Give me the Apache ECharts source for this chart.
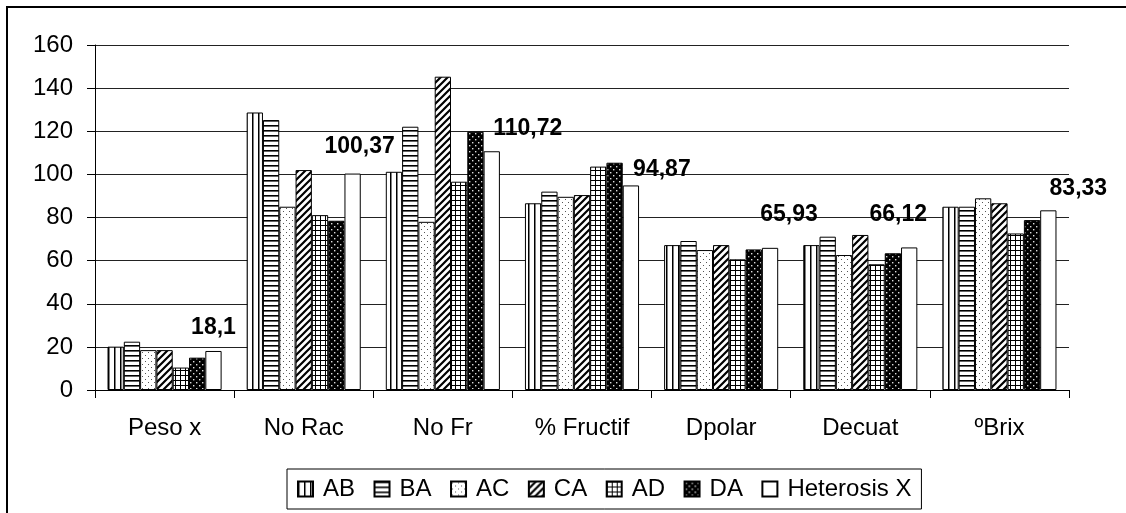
<!DOCTYPE html>
<html>
<head>
<meta charset="utf-8">
<script src="https://cdn.jsdelivr.net/npm/echarts@6/dist/echarts.min.js"></script>
<style>
html,body{margin:0;padding:0;background:#fff;}
#c{width:1126px;height:513px;}
</style>
</head>
<body>
<div id="c"></div>
<script>
// ---- data ----
var categories = ['Peso x', 'No Rac', 'No Fr', '% Fructif', 'Dpolar', 'Decuat', 'ºBrix'];
var seriesNames = ['AB', 'BA', 'AC', 'CA', 'AD', 'DA', 'Heterosis X'];
var AB  = [20.1, 128.7, 101.2, 86.6, 67.2, 67.2, 85.0];
var BA  = [22.4, 125.2, 122.1, 92.0, 69.1, 71.1, 85.0];
var AC  = [18.5, 85.0, 78.0, 89.6, 64.9, 62.6, 88.9];
var CA  = [18.5, 102.0, 145.3, 90.4, 67.2, 71.9, 86.6];
var AD  = [10.4, 81.1, 96.6, 103.6, 60.6, 58.3, 72.6];
var DA  = [15.0, 78.5, 119.8, 105.4, 65.2, 63.4, 78.8];
var HET = [18.1, 100.37, 110.72, 94.87, 65.93, 66.12, 83.33];
var hetLabels = ['18,1', '100,37', '110,72', '94,87', '65,93', '66,12', '83,33'];
var yTicks = [0, 20, 40, 60, 80, 100, 120, 140, 160];

// ---- styles (label nudges, patterns) ----
var labelNudge = [[0,-7],[7,-10],[36,-6],[31,1],[19,-17],[-11,-16],[30,-5]];

function pat(w, h, bg, draw) {
  var c = document.createElement('canvas');
  c.width = w; c.height = h;
  var g = c.getContext('2d');
  g.fillStyle = bg; g.fillRect(0, 0, w, h);
  g.fillStyle = '#000'; g.strokeStyle = '#000';
  draw(g, w, h);
  return { image: c, repeat: 'repeat' };
}
var patterns = [
  pat(6, 6, '#fff', function (g) { g.fillRect(0, 0, 1.5, 6); }),
  pat(5, 5, '#fff', function (g) { g.fillRect(0, 0, 5, 1.6); }),
  pat(6, 6, '#fff', function (g) { g.fillStyle = '#555'; g.fillRect(1, 1, 1, 1); g.fillRect(4, 4, 1, 1); }),
  pat(7, 7, '#fff', function (g, w) {
    g.lineWidth = 2.2;
    g.beginPath();
    g.moveTo(-1, w + 1); g.lineTo(w + 1, -1);
    g.moveTo(-2, 2); g.lineTo(2, -2);
    g.moveTo(w - 2, w + 2); g.lineTo(w + 2, w - 2);
    g.stroke();
  }),
  pat(5, 5, '#fff', function (g) { g.fillRect(0, 0, 5, 1); g.fillRect(0, 0, 1, 5); }),
  pat(6, 6, '#000', function (g) { g.fillStyle = '#ddd'; g.fillRect(1, 1, 1.4, 1.4); g.fillRect(4, 4, 1.4, 1.4); }),
  '#fff'
];

var allData = [AB, BA, AC, CA, AD, DA, HET];
var FONT = 'Liberation Sans, Arial, sans-serif';

var series = allData.map(function (arr, si) {
  var s = {
    name: seriesNames[si],
    type: 'bar',
    barGap: '0%',
    barCategoryGap: '18%',
    itemStyle: { color: patterns[si], borderColor: '#000', borderWidth: 1 },
    emphasis: { disabled: true },
    data: arr.slice()
  };
  if (si === 6) {
    s.data = arr.map(function (v, i) {
      return {
        value: v,
        label: {
          show: true,
          position: 'top',
          distance: 5,
          offset: labelNudge[i],
          formatter: hetLabels[i],
          color: '#000',
          fontFamily: FONT,
          fontWeight: 'bold',
          fontSize: 23
        }
      };
    });
  }
  return s;
});

var chart = echarts.init(document.getElementById('c'), null, { renderer: 'canvas' });
chart.setOption({
  animation: false,
  backgroundColor: '#fff',
  graphic: [{
    type: 'rect',
    shape: { x: 7, y: 7, width: 1200, height: 600 },
    style: { fill: 'none', stroke: '#000', lineWidth: 2 },
    silent: true,
    z: 100
  }],
  grid: { left: 95, right: 57, top: 45, bottom: 123, containLabel: false },
  legend: {
    data: seriesNames,
    left: 287,
    top: 469,
    width: 700,
    orient: 'horizontal',
    borderColor: '#000',
    borderWidth: 1,
    padding: [8, 10, 8, 10],
    itemGap: 18.5,
    itemWidth: 15,
    itemHeight: 15,
    icon: 'rect',
    textStyle: { fontFamily: FONT, fontSize: 24, color: '#000', padding: [0, 0, 0, 5] }
  },
  xAxis: {
    type: 'category',
    data: categories,
    axisLine: { lineStyle: { color: '#000', width: 1 } },
    axisTick: { show: true, length: 8, lineStyle: { color: '#000' } },
    axisLabel: { fontFamily: FONT, fontSize: 24, color: '#000', margin: 26 }
  },
  yAxis: {
    type: 'value',
    min: 0,
    max: 160,
    interval: 20,
    axisLine: { show: true, lineStyle: { color: '#000', width: 1 } },
    axisTick: { show: true, length: 8, lineStyle: { color: '#000' } },
    axisLabel: {
      fontFamily: FONT, fontSize: 24, color: '#000', margin: 22,
      formatter: function (v) { return yTicks.indexOf(v) >= 0 ? String(v) : ''; }
    },
    splitLine: { show: true, lineStyle: { color: '#222', width: 1 } }
  },
  series: series
});
</script>
</body>
</html>
